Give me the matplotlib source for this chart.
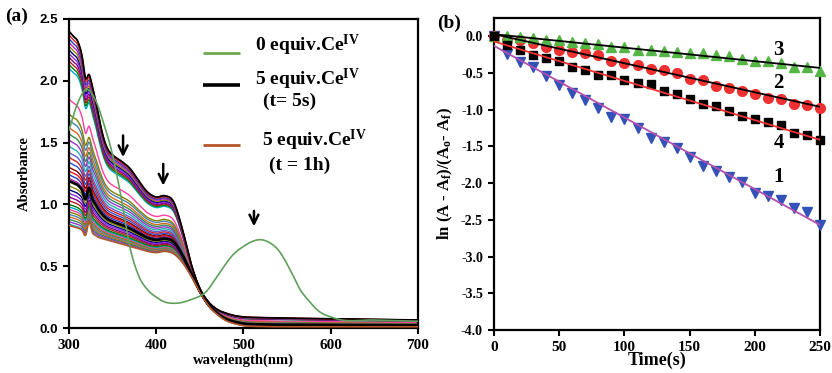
import numpy as np
import matplotlib
matplotlib.use("Agg")
import matplotlib.pyplot as plt

plt.rcParams["axes.unicode_minus"] = False
plt.rcParams["mathtext.fontset"] = "custom"
plt.rcParams["mathtext.rm"] = "Liberation Serif"
plt.rcParams["mathtext.bf"] = "Liberation Serif:bold"
plt.rcParams["mathtext.it"] = "Liberation Serif:italic"

SERIF = "Liberation Serif"
SANS = "Liberation Sans"

# =========================
# (a) 紫外-可见光谱数据
# =========================
wl = [300, 305, 310, 315, 319, 323, 327, 330, 335, 340, 345, 350, 360, 370, 380, 390,
      400, 410, 420, 430, 440, 450, 460, 470, 480, 490, 500, 520, 550, 600, 650, 700]
abs_top = [2.40, 2.36, 2.32, 2.20, 2.02, 2.05, 1.95, 1.86, 1.68, 1.53, 1.44, 1.40,
           1.35, 1.29, 1.19, 1.10, 1.06, 1.07, 1.02, 0.80, 0.52, 0.32, 0.21, 0.15,
           0.12, 0.10, 0.09, 0.085, 0.08, 0.075, 0.07, 0.065]
abs_bottom = [0.83, 0.82, 0.81, 0.79, 0.75, 0.86, 0.77, 0.75, 0.73, 0.72, 0.71, 0.70,
              0.68, 0.66, 0.64, 0.62, 0.61, 0.62, 0.60, 0.53, 0.42, 0.29, 0.18, 0.11,
              0.06, 0.035, 0.02, 0.012, 0.01, 0.01, 0.01, 0.01]

# 每条谱线在 300 nm 处的吸光度（从上到下）
levels_300 = [2.40, 2.37, 2.34, 2.31, 2.28, 2.25, 2.22, 2.19, 2.16, 2.13, 2.10,
              1.85, 1.73, 1.68, 1.62, 1.57, 1.52, 1.47, 1.42, 1.38, 1.34, 1.30,
              1.27, 1.24, 1.21, 1.15, 1.12, 1.09, 1.06, 1.03, 1.00, 0.98, 0.96,
              0.94, 0.92, 0.90, 0.88, 0.86, 0.84]
level_5s = 1.19     # t = 5 s 黑色粗线
level_1h = 0.83     # t = 1 h 棕色线

wl_green = [300, 310, 320, 330, 340, 350, 360, 370, 380, 390, 400, 410, 420, 440,
            458, 470, 489, 500, 510, 519, 530, 540, 555, 565, 575, 584, 604, 650, 700]
abs_green = [1.60, 1.82, 1.93, 1.85, 1.65, 1.40, 1.05, 0.65, 0.42, 0.31, 0.25, 0.21,
             0.20, 0.23, 0.30, 0.42, 0.60, 0.66, 0.70, 0.715, 0.69, 0.63, 0.45, 0.31,
             0.22, 0.15, 0.08, 0.065, 0.055]

arrow_wl = [362, 408, 512]
arrow_top = [1.58, 1.35, 0.97]
arrow_bot = [1.36, 1.13, 0.80]

family_colors = ["#8b0000", "#e41a1c", "#1f3fbf", "#c020c0", "#8b8b00", "#000080",
                 "#8a2be2", "#800080", "#b22222", "#008000", "#00a8c8", "#ff3fa0",
                 "#808000", "#4682b4", "#d2691e", "#2e8b57", "#9932cc", "#20b2aa",
                 "#6a5acd", "#cc2222", "#3050d0"]

# =========================
# (b) 动力学数据
# =========================
t = np.arange(0, 251, 10)
k1 = [0.0, -0.24, -0.35, -0.42, -0.54, -0.66, -0.77, -0.87, -0.97, -1.10, -1.13,
      -1.25, -1.38, -1.44, -1.52, -1.65, -1.76, -1.83, -1.91, -1.98, -2.13, -2.17,
      -2.23, -2.34, -2.39, -2.57]
k2 = [0.0, -0.05, -0.05, -0.09, -0.14, -0.18, -0.21, -0.22, -0.25, -0.33, -0.36,
      -0.39, -0.44, -0.46, -0.50, -0.58, -0.59, -0.67, -0.70, -0.74, -0.79, -0.84,
      -0.86, -0.92, -0.93, -0.97]
k3 = [0.0, 0.0, -0.01, -0.02, -0.05, -0.05, -0.08, -0.09, -0.10, -0.14, -0.15,
      -0.18, -0.19, -0.20, -0.21, -0.22, -0.23, -0.26, -0.27, -0.31, -0.33, -0.34,
      -0.36, -0.42, -0.42, -0.47]
k4 = [0.0, -0.12, -0.19, -0.25, -0.30, -0.34, -0.42, -0.46, -0.53, -0.52, -0.60,
      -0.63, -0.65, -0.74, -0.79, -0.85, -0.92, -0.95, -1.02, -1.09, -1.13, -1.17,
      -1.21, -1.32, -1.35, -1.41]
# 拟合直线：截距、斜率
fit_intercept = {"1": -0.13, "2": 0.03, "3": 0.03, "4": -0.07}
fit_slope = {"1": -0.00976, "2": -0.00396, "3": -0.00184, "4": -0.00536}
label_pos = {"3": (218, -0.19), "2": (218, -0.64), "4": (218, -1.45), "1": (218, -1.92)}


def smooth_curve(x, y, n=10):
    """三次 Hermite 插值，仅用于把折线画得圆滑。"""
    x = np.asarray(x, float)
    y = np.asarray(y, float)
    m = np.gradient(y, x)
    s = np.linspace(0, 1, n, endpoint=False)
    h00, h10 = 2 * s**3 - 3 * s**2 + 1, s**3 - 2 * s**2 + s
    h01, h11 = -2 * s**3 + 3 * s**2, s**3 - s**2
    xs, ys = [], []
    for i in range(len(x) - 1):
        h = x[i + 1] - x[i]
        xs.append(x[i] + s * h)
        ys.append(h00 * y[i] + h10 * h * m[i] + h01 * y[i + 1] + h11 * h * m[i + 1])
    xs.append([x[-1]])
    ys.append([y[-1]])
    return np.concatenate(xs), np.concatenate(ys)


def style_axes(ax):
    for side in ["left", "bottom", "top", "right"]:
        ax.spines[side].set_linewidth(1.6)
    ax.tick_params(direction="out", length=4.5, width=1.5, top=False, right=False)


fig = plt.figure(figsize=(8.32, 3.73), dpi=100)

# ---------- (a) ----------
ax = fig.add_axes([0.0829, 0.1206, 0.4195, 0.8285])
top = np.array(abs_top)
bot = np.array(abs_bottom)


def mix(level):
    w = (level - abs_bottom[0]) / (abs_top[0] - abs_bottom[0])
    return smooth_curve(wl, bot + w * (top - bot))


for i, lv in enumerate(levels_300[::-1]):
    c = family_colors[(len(levels_300) - 1 - i) % len(family_colors)]
    ax.plot(*mix(lv), color=c, lw=1.0)
ax.plot(*mix(level_5s), color="black", lw=2.0, zorder=3)
ax.plot(*mix(level_1h), color="#b5562a", lw=1.2, zorder=3)
ax.plot(*smooth_curve(wl, top), color="black", lw=1.2, zorder=3)
ax.plot(*smooth_curve(wl_green, abs_green), color="#5fa05a", lw=1.2, zorder=4)

for x, y0, y1 in zip(arrow_wl, arrow_top, arrow_bot):
    ax.annotate("", xy=(x, y1), xytext=(x, y0),
                arrowprops=dict(arrowstyle="->", lw=1.8, color="black",
                                mutation_scale=16))

ax.set_xlim(300, 700)
ax.set_ylim(0, 2.5)
ax.set_xticks([300, 400, 500, 600, 700])
ax.set_yticks([0.0, 0.5, 1.0, 1.5, 2.0, 2.5])
ax.set_yticklabels([f"{v:.1f}" for v in [0.0, 0.5, 1.0, 1.5, 2.0, 2.5]],
                   fontfamily=SANS, fontweight="bold", fontsize=9.5)
ax.set_xticklabels(["300", "400", "500", "600", "700"],
                   fontfamily=SERIF, fontweight="bold", fontsize=11)
style_axes(ax)
ax.set_xlabel("wavelength(nm)", fontfamily=SERIF, fontweight="bold", fontsize=10.5,
              labelpad=1)
ax.set_ylabel("Absorbance", fontfamily=SERIF, fontweight="bold", fontsize=10.5,
              labelpad=6)

# 图例（手工排版，贴近原图的错位）
leg_font = dict(fontfamily=SERIF, fontweight="bold", fontsize=14, va="center",
                transform=ax.transAxes)
for y, c, lw in [(0.89, "#6aa84f", 2.0), (0.786, "black", 2.6), (0.592, "#b5562a", 2.0)]:
    ax.plot([0.384, 0.49], [y, y], color=c, lw=lw, transform=ax.transAxes,
            solid_capstyle="butt")
ax.text(0.533, 0.913, r"0 equiv.Ce$^{\mathbf{IV}}$", **leg_font)
ax.text(0.533, 0.803, r"5 equiv.Ce$^{\mathbf{IV}}$", **leg_font)
ax.text(0.556, 0.735, "(t= 5s)", **leg_font)
ax.text(0.553, 0.608, r"5 equiv.Ce$^{\mathbf{IV}}$", **leg_font)
ax.text(0.573, 0.528, "(t = 1h)", **leg_font)

fig.text(0.006, 0.945, "(a)", fontfamily=SERIF, fontweight="bold", fontsize=14)

# ---------- (b) ----------
bx = fig.add_axes([0.5938, 0.1153, 0.392, 0.8364])
series = [("1", k1, "v", "#3352b8", "#b34fb0", 7.5),
          ("2", k2, "o", "#ee3030", "black", 7),
          ("3", k3, "^", "#55b545", "black", 7.5),
          ("4", k4, "s", "black", "#ee3333", 5.5)]
for name, y, mk, mc, lc, ms in series:
    bx.plot(t, y, ls="none", marker=mk, color=mc, ms=ms, zorder=3, clip_on=False)
for name, y, mk, mc, lc, ms in series:
    tt = np.array([0, 250])
    bx.plot(tt, fit_intercept[name] + fit_slope[name] * tt, color=lc, lw=1.3, zorder=4)
for name, (x, y) in label_pos.items():
    bx.text(x, y, name, fontfamily=SERIF, fontweight="bold", fontsize=15,
            ha="center", va="center")

bx.set_xlim(0, 250)
bx.set_ylim(-4.0, 0.25)
bx.set_xticks([0, 50, 100, 150, 200, 250])
bx.set_xticklabels(["0", "50", "100", "150", "200", "250"],
                   fontfamily=SERIF, fontweight="bold", fontsize=11)
yt = [0.0, -0.5, -1.0, -1.5, -2.0, -2.5, -3.0, -3.5, -4.0]
bx.set_yticks(yt)
bx.set_yticklabels([f"{v:.1f}" for v in yt], fontfamily=SERIF, fontweight="bold",
                   fontsize=10)
style_axes(bx)
bx.set_xlabel("Time(s)", fontfamily=SERIF, fontweight="bold", fontsize=13, labelpad=-2)
bx.set_ylabel(r"ln (A - A$_{\mathbf{f}}$)/(A$_{\mathbf{o}}$- A$_{\mathbf{f}}$)",
              fontfamily=SERIF, fontweight="bold", fontsize=12, labelpad=4)

fig.text(0.525, 0.925, "(b)", fontfamily=SERIF, fontweight="bold", fontsize=14)

fig.savefig("out.png", dpi=100)
